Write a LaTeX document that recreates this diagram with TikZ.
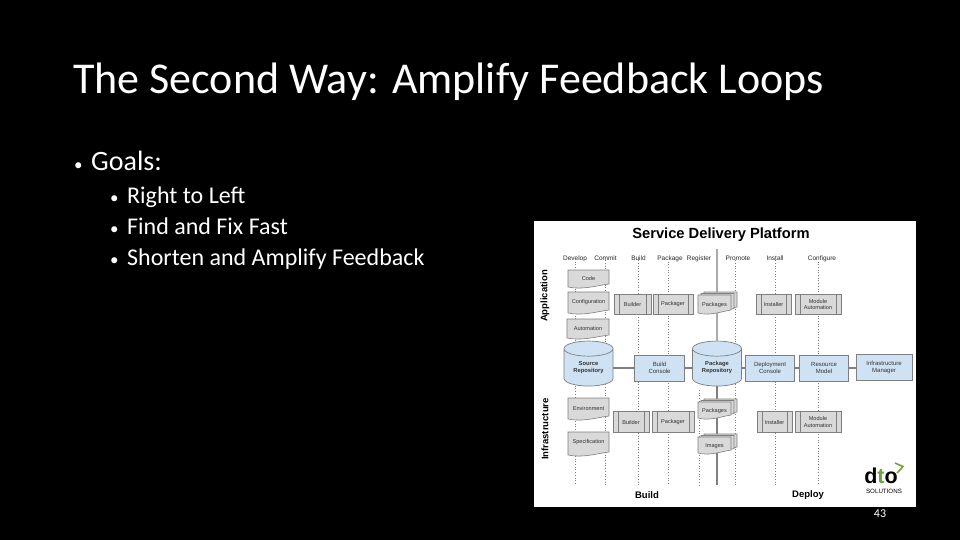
\documentclass[tikz,border=0pt]{standalone}
\usepackage{fontspec}
\setmainfont{Carlito}
\newfontfamily\diagfont{Liberation Sans}
\usetikzlibrary{shapes.geometric}
\definecolor{boxgray}{HTML}{D9D9D9}
\definecolor{linegray}{HTML}{7F7F7F}
\definecolor{paleblue}{HTML}{CFE2F3}
\definecolor{logogreen}{HTML}{6FA53C}

% x1, y1, x2, y2 of a sheet with a wavy foot
\newcommand{\sheet}[4]{%
  \filldraw[sheetline] (#1,#2) -- (#3,#2) -- (#3,#4-5)
    .. controls ({#1+0.65*(#3-#1)},#4-3) and ({#1+0.35*(#3-#1)},#4+1) .. (#1,#4-2) -- cycle;}
\newcommand{\dotmark}{\makebox[18pt][l]{\hspace{1pt}\fontsize{17}{17}\selectfont•}}

\begin{document}
\begin{tikzpicture}[x=1pt, y=-1pt,
  titletext/.style={text=white, anchor=base west, inner sep=0pt, font=\fontsize{44}{48}\selectfont},
  bullettext/.style={text=white, anchor=base west, inner sep=0pt, font=\fontsize{28}{32}\selectfont},
  subtext/.style={text=white, anchor=base west, inner sep=0pt, font=\fontsize{24}{28}\selectfont},
  header/.style={inner sep=0pt, anchor=base, font=\diagfont\fontsize{6.5}{7}\selectfont, text=black!85},
  axis/.style={inner sep=0pt, font=\diagfont\bfseries\fontsize{9.5}{11}\selectfont},
  small/.style={inner sep=0pt, align=center, font=\diagfont\fontsize{5.6}{6.6}\selectfont, text=black!80},
  sheetline/.style={draw=linegray, fill=boxgray, line width=0.6pt},
  procbox/.style={small, draw=linegray, fill=boxgray, line width=0.7pt, minimum height=20.5pt,
    path picture={\draw[linegray, line width=0.7pt]
      ([xshift=5pt]path picture bounding box.north west) -- ([xshift=5pt]path picture bounding box.south west)
      ([xshift=-5pt]path picture bounding box.north east) -- ([xshift=-5pt]path picture bounding box.south east);}},
  bluebox/.style={small, font=\diagfont\fontsize{6}{7.6}\selectfont, draw=linegray, fill=paleblue, line width=0.7pt, minimum width=49.5pt, minimum height=26pt},
  repo/.style={small, font=\diagfont\bfseries\fontsize{5.8}{7}\selectfont, cylinder, shape border rotate=90, aspect=0.5, draw=linegray, line width=0.7pt,
    cylinder uses custom fill, cylinder body fill=paleblue, cylinder end fill=paleblue, minimum width=49pt, minimum height=45pt},
  dots/.style={linegray, line width=0.7pt, dotted},
  spine/.style={linegray, line width=1.4pt},
  link/.style={linegray, line width=1.2pt}]

\fill[black] (0,0) rectangle (960,540);
\useasboundingbox (0,0) rectangle (960,540);
\fill[white] (534,221) rectangle (916,507);

\node[titletext] (title) at (73,94) {The Second Way: Amplify Feedback Loops};
\node[bullettext] (goals) at (73,171) {\dotmark Goals:};
\node[subtext] (right) at (109,203) {\dotmark Right to Left};
\node[subtext] (find) at (109,234) {\dotmark Find and Fix Fast};
\node[subtext] (shorten) at (109,265) {\dotmark Shorten and Amplify Feedback};

\node[inner sep=0pt, font=\diagfont\bfseries\fontsize{14.7}{16}\selectfont] (sdp) at (721,235) {Service Delivery Platform};

\node[header] (develop) at (575,260) {Develop};
\node[header] (commit) at (605.5,260) {Commit};
\node[header] (buildh) at (638.5,260) {Build};
\node[header] (packageh) at (670,260) {Package};
\node[header] (register) at (699,260) {Register};
\node[header] (promote) at (738,260) {Promote};
\node[header] (install) at (775,260) {Install};
\node[header] (configure) at (822,260) {Configure};

\coordinate (foot) at (0,485);
\coordinate (regtop) at (699,390);
\coordinate (spinetop) at (717,249);
\coordinate (spinefoot) at (717,485);

\draw[dots] (develop.south) -- (develop.south |- foot);
\draw[dots] (commit.south) -- (commit.south |- foot);
\draw[dots] (buildh.south) -- (buildh.south |- foot);
\draw[dots] ([xshift=-2pt]packageh.south) -- ([xshift=-2pt]packageh.south |- foot);
\draw[dots] (regtop) -- (regtop |- foot);
\draw[dots] ([xshift=-3pt]promote.south) -- ([xshift=-3pt]promote.south |- foot);
\draw[dots] (install.south) -- (install.south |- foot);
\draw[dots] ([xshift=-3.5pt]configure.south) -- ([xshift=-3.5pt]configure.south |- foot);

\node[repo] (source) at (588.5,367.5) {Source\\Repository};
\node[repo] (pkgrepo) at (717,367.5) {Package\\Repository};
\node[bluebox] (console) at (659.5,368) {Build\\Console};
\node[bluebox] (deploy) at (770,368) {Deployment\\Console};
\node[bluebox] (resource) at (824,368) {Resource\\Model};
\node[bluebox, minimum width=56pt] (manager) at (884,367.5) {Infrastructure\\Manager};

\draw[spine] (spinetop) -- (pkgrepo.north);
\draw[spine] (pkgrepo.south) -- (spinefoot);
\draw[link] (console.west -| source.east) -- (console.west);
\draw[link] (console.east) -- (console.east -| pkgrepo.west);
\draw[link] (deploy.west -| pkgrepo.east) -- (deploy.west);
\draw[link] (deploy.east) -- (resource.west);
\draw[link] (resource.east) -- (resource.east -| manager.west);

% application row
\sheet{568}{270}{609}{289}
\node[small] (code) at (588.5,278) {Code};
\sheet{568}{292}{609}{315}
\node[small] (config) at (588.5,302) {Configuration};
\sheet{567}{319}{609}{340}
\node[small] (autom) at (588,328) {Automation};
\node[procbox, minimum width=37pt] (builder) at (632.5,304.5) {Builder};
\node[procbox, minimum width=40pt] (packager) at (673,304.5) {Packager};
\sheet{704}{292}{737}{312}
\sheet{701}{293.5}{734}{313.5}
\sheet{698}{295}{731}{315}
\node[small] (packages) at (714.5,305) {Packages};
\node[procbox, minimum width=35pt] (installer) at (773.5,304.5) {Installer};
\node[procbox, minimum width=46pt] (module) at (818,304.5) {Module\\Automation};

% infrastructure row
\sheet{568}{398}{609}{421}
\node[small] (environ) at (588.5,408) {Environment};
\sheet{568}{432}{609}{457}
\node[small] (spec) at (588.5,442) {Specification};
\node[procbox, minimum width=36pt] (builderb) at (631,422) {Builder};
\node[procbox, minimum width=42pt] (packagerb) at (673,422) {Packager};
\sheet{704}{399}{737}{417}
\sheet{701}{400.5}{734}{418.5}
\sheet{698}{402}{731}{420}
\node[small] (packagesb) at (714.5,411) {Packages};
\sheet{704}{434}{737}{452}
\sheet{701}{435.5}{734}{453.5}
\sheet{698}{437}{731}{455}
\node[small] (images) at (714.5,446) {Images};
\node[procbox, minimum width=35pt] (installerb) at (774.5,422) {Installer};
\node[procbox, minimum width=46pt] (moduleb) at (818,422) {Module\\Automation};

\node[axis, rotate=90] (appl) at (545,296) {Application};
\node[axis, rotate=90] (infra) at (545,429) {Infrastructure};
\node[axis] (buildf) at (647,495) {Build};
\node[axis] (deployf) at (808,495) {Deploy};

% logo
\node[inner sep=0pt, font=\diagfont\bfseries\fontsize{21.5}{23}\selectfont, anchor=base] (logo) at (881,483) {d\textcolor{logogreen}{t}o};
\node[inner sep=0pt, font=\diagfont\fontsize{6.2}{7}\selectfont] (solutions) at (884,491) {SOLUTIONS};
\coordinate (chevtop) at (895,463);
\coordinate (chevtip) at (903,466.5);
\coordinate (chevbot) at (897,473);
\draw[logogreen, line width=1.6pt] (chevtop) -- (chevtip) -- (chevbot);

\node[text=white, inner sep=0pt, font=\fontsize{12}{14}\selectfont] (pagenum) at (880,514) {43};
\end{tikzpicture}
\end{document}
